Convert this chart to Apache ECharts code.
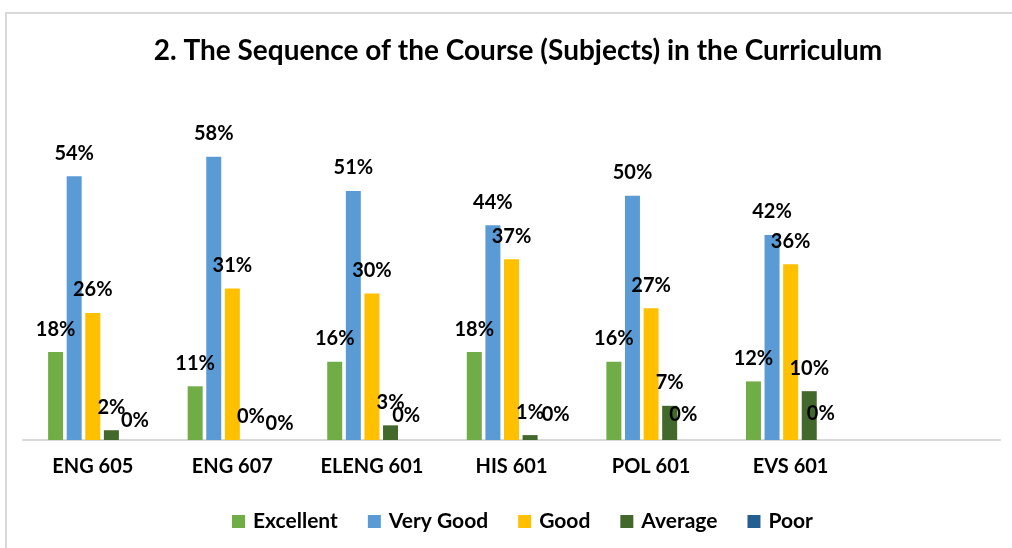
<!DOCTYPE html>
<html>
<head>
<meta charset="utf-8">
<script src="https://cdn.jsdelivr.net/npm/echarts@6/dist/echarts.min.js"></script>
<style>
  html, body { margin: 0; padding: 0; background: #fff; }
  #DataChart { width: 1012px; height: 548px; }
</style>
</head>
<body>
<div id="DataChart"></div>
<script>
// categories (the last one is empty in the original chart)
var categories = ['ENG 605', 'ENG 607', 'ELENG 601', 'HIS 601', 'POL 601', 'EVS 601', ''];
var excellent = [18, 11, 16, 18, 16, 12, null];
var veryGood  = [54, 58, 51, 44, 50, 42, null];
var good      = [26, 31, 30, 37, 27, 36, null];
var average   = [2, 0, 3, 1, 7, 10, null];
var poor      = [0, 0, 0, 0, 0, 0, null];

var seriesNames = ['Excellent', 'Very Good', 'Good', 'Average', 'Poor'];
var seriesData = [excellent, veryGood, good, average, poor];
var colors = ['#70AD47', '#5B9BD5', '#FFC000', '#43682B', '#255E91'];

// the "Poor" labels are nudged in the original so they don't sit on the "Average" ones
var poorLabelOffsets = [[5, 4], [10, 7], [-3, -1], [7, -2], [-5, -2], [-7, -3]];

var fontFam = 'Lato, "Open Sans", sans-serif';

var myChart = echarts.init(document.getElementById('DataChart'));

var series = seriesNames.map(function (name, i) {
    var data = seriesData[i];
    if (name === 'Poor') {
        data = data.map(function (v, j) {
            if (v == null) return v;
            return { value: v, label: { offset: poorLabelOffsets[j] } };
        });
    }
    return {
        name: name,
        type: 'bar',
        data: data,
        barWidth: 15,
        barGap: '24%',
        itemStyle: { color: colors[i] },
        label: {
            show: true,
            position: 'top',
            distance: 13,
            formatter: '{c}%',
            color: '#000',
            fontFamily: fontFam,
            fontWeight: 'bold',
            fontSize: 20
        }
    };
});

var option = {
    animation: false,
    color: colors,
    graphic: [{
        type: 'rect',
        shape: { x: 6, y: 13, width: 1015, height: 545 },
        style: { fill: 'none', stroke: '#d9d9d9', lineWidth: 2 },
        silent: true
    }],
    title: {
        text: '2. The Sequence of the Course (Subjects) in the Curriculum',
        left: 513,
        textAlign: 'center',
        top: 32,
        textStyle: {
            fontFamily: fontFam,
            fontWeight: 'bold',
            fontSize: 28,
            color: '#000'
        }
    },
    legend: {
        data: seriesNames,
        bottom: 11,
        left: 227,
        itemWidth: 13,
        itemHeight: 13,
        itemGap: 30,
        icon: 'rect',
        textStyle: {
            fontFamily: fontFam,
            fontWeight: 'bold',
            fontSize: 21,
            color: '#000',
            padding: [0, 0, 0, 3]
        }
    },
    grid: {
        left: 23,
        right: 12,
        top: 147,
        bottom: 108,
        containLabel: false
    },
    xAxis: {
        type: 'category',
        data: categories,
        axisTick: { show: false },
        axisLine: { lineStyle: { color: '#d9d9d9', width: 2 } },
        axisLabel: {
            margin: 17,
            color: '#000',
            fontFamily: fontFam,
            fontWeight: 'bold',
            fontSize: 20
        }
    },
    yAxis: {
        type: 'value',
        min: 0,
        max: 60,
        show: false,
        splitLine: { show: false }
    },
    series: series
};

myChart.setOption(option);
</script>
</body>
</html>
